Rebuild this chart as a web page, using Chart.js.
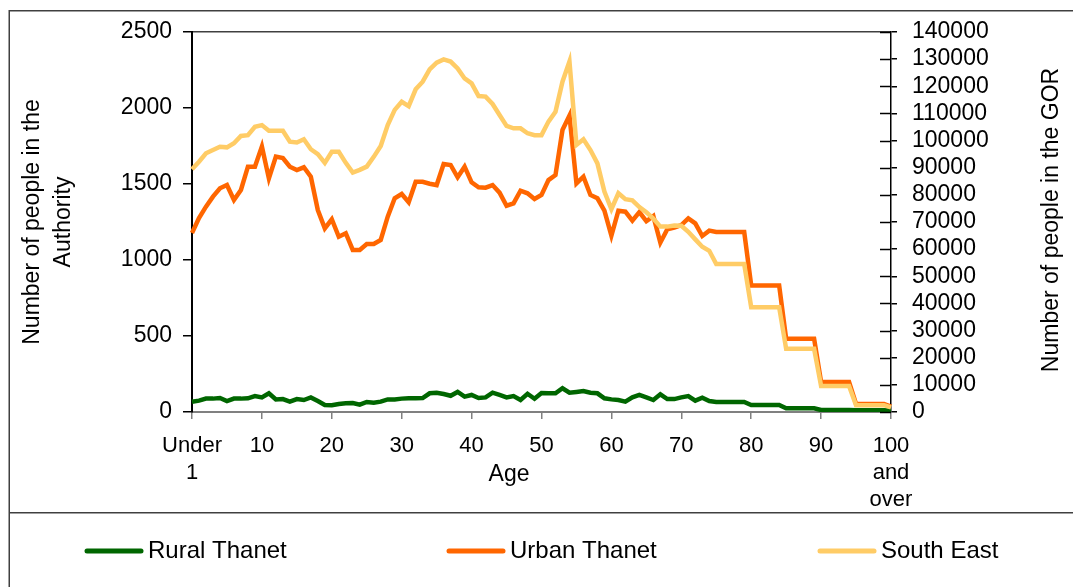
<!DOCTYPE html>
<html>
<head>
<meta charset="utf-8">
<script src="https://cdn.jsdelivr.net/npm/chart.js@4.4.1/dist/chart.umd.min.js"></script>
<style>
html, body { margin: 0; padding: 0; background: #fff; }
#wrap { width: 1073px; height: 587px; position: relative; }
</style>
</head>
<body>
<div id="wrap"><canvas id="age_chart" width="1073" height="587"></canvas></div>
<script>
var ages = ['Under 1','1','2','3','4','5','6','7','8','9','10','11','12','13','14','15','16','17','18','19',
    '20','21','22','23','24','25','26','27','28','29','30','31','32','33','34','35','36','37','38','39',
    '40','41','42','43','44','45','46','47','48','49','50','51','52','53','54','55','56','57','58','59',
    '60','61','62','63','64','65','66','67','68','69','70','71','72','73','74','75','76','77','78','79',
    '80','81','82','83','84','85','86','87','88','89','90','91','92','93','94','95','96','97','98','99',
    '100 and over'];

// tick text shown every 10 years
var xTickText = [['Under','1'],'10','20','30','40','50','60','70','80','90',['100','and','over']];

var rural = [68,75,88,88,92,72,88,88,90,105, 96,123,83,85,68,85,79,96,72,46,
    44,53,57,59,48,66,61,68,83,83, 88,90,90,92,123,127,118,107,132,101,
    112,92,96,127,112,96,105,79,120,87, 125,123,123,156,127,132,138,127,123,90,
    83,79,68,96,112,96,79,116,85,85, 96,105,75,94,72,66,66,66,66,66,
    46,46,46,46,46,24,24,24,24,24, 13,13,13,13,13,11,11,11,11,11, 9];

var urban = [1178,1276,1351,1417,1472,1493,1395,1461,1614,1614, 1746,1537,1680,1671,1614,1592,1610,1548,1329,1208,
    1268,1153,1176,1066,1066,1105,1105,1132,1285,1406, 1434,1380,1515,1515,1502,1493,1632,1625,1544,1614,
    1511,1478,1476,1493,1443,1357,1373,1456,1439,1401, 1428,1526,1559,1855,1950,1504,1548,1428,1406,1325,
    1160,1324,1318,1259,1315,1255,1289,1114,1202,1213, 1230,1274,1241,1158,1193,1184,1184,1184,1184,1184,
    833,833,833,833,833,482,482,482,482,482, 197,197,197,197,197,53,53,53,53,53, 35];

var southEast = [89400,92200,95300,96500,97700,97500,99000,101700,102000,105100,
    105700,103600,103600,103600,99600,99300,100500,96800,95000,91800,
    95900,95900,91800,88200,89200,90400,94000,98000,105700,111300,
    114300,112700,118900,121700,126200,128700,129900,129100,126600,122900,
    121100,116400,116200,113500,109400,105400,104500,104500,102700,102000,
    102000,107000,110600,121700,129100,98400,100500,96500,91600,81200,
    74700,80600,78400,78000,75500,73600,71300,68300,68300,68700,
    68600,66400,63600,60900,59400,54500,54500,54500,54500,54500,
    38600,38600,38600,38600,38600,23300,23300,23300,23300,23300,
    9600,9600,9600,9600,9600,2500,2500,2500,2500,2500, 1700];

var seriesNames = ['Rural Thanet','Urban Thanet','South East'];
var seriesColors = ['#006600','#ff6600','#ffcc66'];

var FONT = "'Liberation Sans', Arial, sans-serif";

// white background, frame round plot and legend boxes
var framePlugin = {
    id: 'frame',
    beforeDraw: function(chart){
        var ctx = chart.ctx;
        ctx.save();
        ctx.fillStyle = '#fff';
        ctx.fillRect(0, 0, chart.width, chart.height);
        ctx.strokeStyle = '#404040';
        ctx.lineWidth = 1.5;
        ctx.beginPath();
        ctx.moveTo(1080, 10.75);
        ctx.lineTo(9.25, 10.75);
        ctx.lineTo(9.25, 600);
        ctx.moveTo(9.25, 512.75);
        ctx.lineTo(1080, 512.75);
        ctx.stroke();
        ctx.restore();
    },
    afterDraw: function(chart){
        var ctx = chart.ctx;
        var y2 = chart.scales.y2;
        var area = chart.chartArea;
        ctx.save();
        // inner half of the crossing ticks on the right axis
        ctx.strokeStyle = '#000';
        ctx.lineWidth = 1.5;
        y2.ticks.forEach(function(t){
            var py = Math.round(y2.getPixelForValue(t.value)) + 0.5;
            ctx.beginPath();
            ctx.moveTo(area.right - 11, py);
            ctx.lineTo(area.right, py);
            ctx.stroke();
        });
        ctx.fillStyle = '#000';
        ctx.font = '23px ' + FONT;
        ctx.textAlign = 'center';
        ctx.textBaseline = 'middle';
        ctx.fillText('Age', 509, 475);
        ctx.translate(1052, 220);
        ctx.rotate(-Math.PI / 2);
        ctx.fillText('Number of people in the GOR', 0, 0);
        ctx.restore();

        // legend, in series order
        var xs = [85, 447, 818];
        ctx.save();
        ctx.font = '24px ' + FONT;
        ctx.textBaseline = 'middle';
        ctx.textAlign = 'left';
        seriesNames.forEach(function(name, i){
            ctx.strokeStyle = seriesColors[i];
            ctx.lineWidth = 5;
            ctx.lineCap = 'round';
            ctx.beginPath();
            ctx.moveTo(xs[i] + 2, 551);
            ctx.lineTo(xs[i] + 56, 551);
            ctx.stroke();
            ctx.fillStyle = '#000';
            ctx.fillText(name, xs[i] + 63, 551);
        });
        ctx.restore();
    }
};

function makeDataset(i, data, axis){
    return {
        label: seriesNames[i],
        data: data,
        yAxisID: axis,
        borderColor: seriesColors[i],
        backgroundColor: seriesColors[i],
        borderWidth: 4.5,
        pointRadius: 0,
        pointHoverRadius: 0,
        tension: 0,
        fill: false
    };
}

function plainNumber(v){ return String(v); }

var config = {
    type: 'line',
    data: {
        labels: ages,
        datasets: [
            makeDataset(2, southEast, 'y2'),
            makeDataset(1, urban, 'y'),
            makeDataset(0, rural, 'y')
        ]
    },
    options: {
        responsive: false,
        animation: false,
        events: [],
        layout: { padding: { left: 0, right: 0, top: 32, bottom: 0 } },
        plugins: {
            legend: { display: false },
            tooltip: { enabled: false }
        },
        scales: {
            x: {
                type: 'category',
                offset: false,
                border: { color: '#808080', width: 2 },
                grid: { drawOnChartArea: false, tickLength: 7, color: '#808080', lineWidth: 1.5 },
                ticks: {
                    autoSkip: false,
                    maxRotation: 0,
                    minRotation: 0,
                    padding: 13,
                    color: '#000',
                    font: { family: FONT, size: 22, lineHeight: 1.23 },
                    callback: function(val, index){
                        return index % 10 === 0 ? xTickText[index / 10] : null;
                    }
                },
                afterFit: function(scale){ scale.height = 175; }
            },
            y: {
                position: 'left',
                min: 0,
                max: 2500,
                border: { color: '#000', width: 2 },
                grid: {
                    tickLength: 9,
                    tickColor: '#000',
                    lineWidth: 1.5,
                    color: function(c){ return c.tick && c.tick.value === 2500 ? '#404040' : 'rgba(0,0,0,0)'; }
                },
                ticks: {
                    stepSize: 500,
                    autoSkip: false,
                    padding: 11,
                    color: '#000',
                    font: { family: FONT, size: 23 },
                    callback: plainNumber
                },
                title: {
                    display: true,
                    text: ['Number of people in the', 'Authority'],
                    color: '#000',
                    font: { family: FONT, size: 23, lineHeight: 1.35 },
                    padding: { top: 17, bottom: 0 }
                },
                afterFit: function(scale){ scale.width = 192; }
            },
            y2: {
                position: 'right',
                min: 0,
                max: 140000,
                border: { color: '#000', width: 1.5 },
                grid: { drawOnChartArea: false, tickLength: 6, color: '#000', lineWidth: 1.5 },
                ticks: {
                    stepSize: 10000,
                    autoSkip: false,
                    padding: 15,
                    color: '#000',
                    font: { family: FONT, size: 23 },
                    callback: plainNumber
                },
                afterFit: function(scale){ scale.width = 182; }
            }
        }
    },
    plugins: [framePlugin]
};

var chart = new Chart(document.getElementById('age_chart').getContext('2d'), config);
</script>
</body>
</html>
